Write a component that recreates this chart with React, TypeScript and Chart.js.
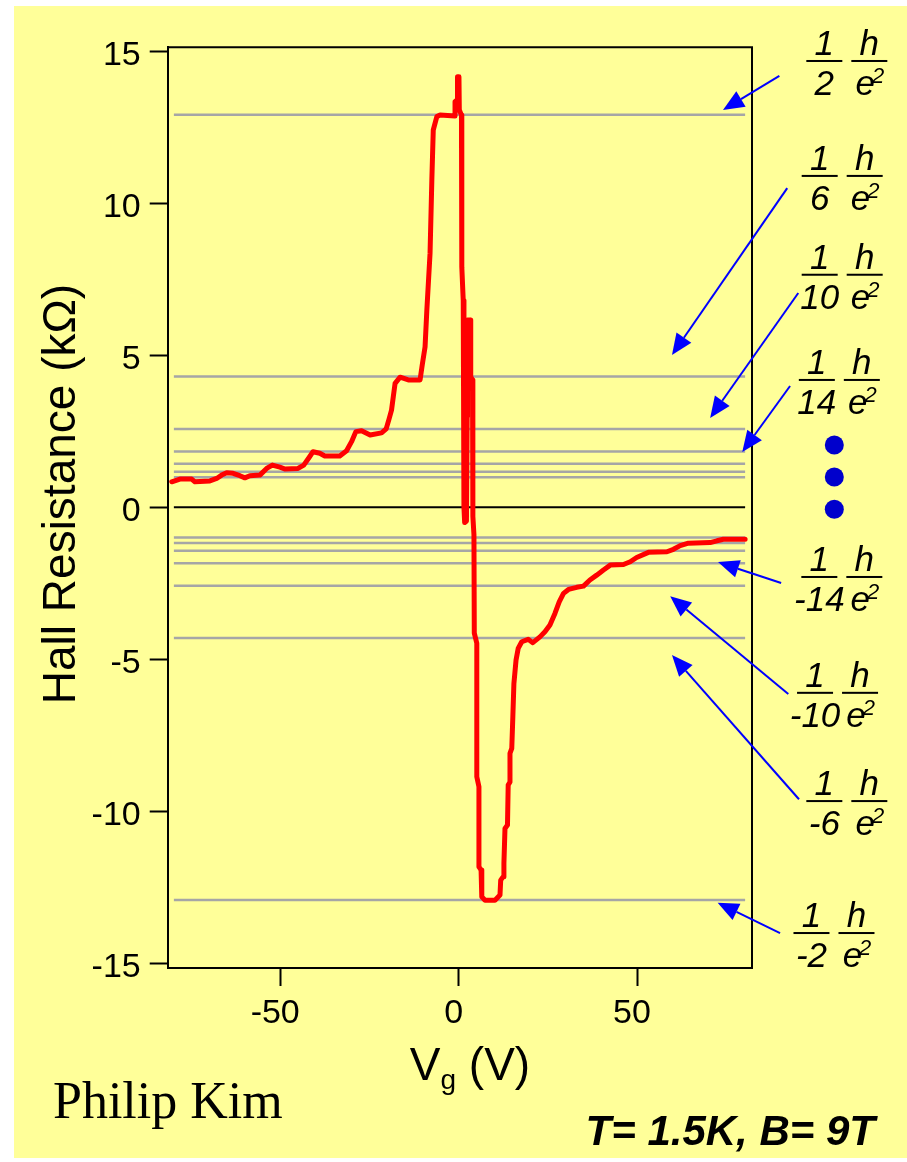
import React, { useEffect, useRef } from "react";
import { Chart, registerables } from "chart.js";

Chart.register(...registerables);

// Gate voltage (V) and Hall resistance (kΩ)
const vgValues = [
  -80.4, -78.1, -74.8, -73.9, -69.7, -67.8, -66.4, -65.0, -63.2, -61.3, -59.9, -58.5, -55.7, -53.8, -52.2,
  -50.1, -48.6, -45.0, -43.4, -41.9, -40.8, -38.9, -37.5, -33.3, -31.4, -30.0, -28.8, -27.2, -24.8, -21.6,
  -20.3, -19.5, -18.8, -18.3, -17.8, -16.4, -14.1, -10.8, -10.2, -9.4, -8.9, -8.0, -7.5, -7.1, -6.1, -5.2,
  -1.0, -1.0, -0.4, -0.3, 0.1, 0.2, 0.8, 0.9, 1.3, 1.5, 1.7, 2.2, 2.4, 2.5, 3.2, 3.4, 3.9, 4.0, 4.3, 4.4,
  5.1, 5.1, 5.7, 5.7, 6.3, 6.5, 7.4, 10.2, 11.6, 11.8, 12.5, 12.7, 13.0, 13.7, 13.9, 14.4, 14.4, 14.9, 15.2,
  15.5, 16.1, 16.7, 17.7, 19.5, 20.8, 22.8, 24.2, 25.6, 27.0, 28.2, 29.4, 30.8, 33.1, 35.0, 36.8, 38.7, 40.6,
  42.5, 46.2, 48.1, 49.9, 53.2, 58.4, 60.2, 62.1, 64.4, 70.5, 72.4, 74.2, 80.3,
];
const hallValues = [
  0.84, 0.93, 0.93, 0.84, 0.87, 0.95, 1.06, 1.14, 1.12, 1.04, 0.97, 1.04, 1.06, 1.28, 1.39,
  1.32, 1.26, 1.28, 1.39, 1.64, 1.83, 1.78, 1.69, 1.69, 1.86, 2.16, 2.49, 2.52, 2.38, 2.45,
  2.58, 2.9, 3.2, 3.64, 4.08, 4.28, 4.19, 4.19, 4.68, 5.28, 6.49, 8.36, 10.77, 12.41, 12.85, 12.9,
  12.87, 13.34, 13.4, 14.16, 14.16, 13.07, 12.9, 7.9, 6.8, 0.0, -0.5, -0.45, 3.0, 6.16, 6.16, 4.3, 4.19, -0.3, -0.9, -4.14,
  -4.47, -8.86, -9.19, -11.82, -11.93, -12.81, -12.92, -12.92, -12.75, -12.26, -12.15, -11.71, -10.56, -10.45, -9.13, -9.03, -8.09, -7.93, -6.89,
  -5.79, -5.02, -4.64, -4.42, -4.34, -4.45, -4.26, -4.09, -3.87, -3.49, -3.11, -2.83, -2.70, -2.63, -2.59, -2.39, -2.23, -2.06,
  -1.90, -1.88, -1.79, -1.65, -1.48, -1.46, -1.38, -1.26, -1.18, -1.16, -1.10, -1.05, -1.05,
];

// Quantized plateau levels (kΩ), grey reference lines
const plateauLevels = [12.91, 4.30, 2.58, 1.84, 1.43, 1.17, 0.99, -0.99, -1.17, -1.43, -1.84, -2.58, -4.30, -12.91];
const refLineX = [-79.8, 80.3];

const xTicks = [-50, 0, 50];
const yTicks = [-15, -10, -5, 0, 5, 10, 15];
const xRange = [-81.53, 82.23];
const yRange = [-15.15, 15.13];

// Annotation fractions 1/ν · h/e²
const labelDenoms = ["2", "6", "10", "14", "-14", "-10", "-6", "-2"];
const labelCx = [102.5, 101.2, 101.2, 100.4, 101.1, 99.9, 102.5, 98.9];
const labelBarY = [14.68, 10.9, 7.65, 4.19, -2.29, -6.1, -9.66, -14.0];
const arrowTipX = [74.1, 59.8, 70.5, 79.5, 72.7, 59.3, 59.8, 72.6];
const arrowTipY = [13.07, 5.01, 2.94, 1.82, -1.8, -2.92, -4.86, -13.0];
const arrowTailX = [89.9, 92.1, 95.2, 92.9, 90.4, 92.4, 95.4, 90.1];
const arrowTailY = [14.19, 10.5, 7.05, 3.99, -2.49, -6.14, -9.6, -14.0];
const dotX = [105.3, 105.3, 105.3];
const dotY = [2.05, 1.0, -0.06];

const SANS = "'Liberation Sans', Arial, sans-serif";
const SERIF = "'Liberation Serif', 'Times New Roman', serif";

const decor = {
  id: "decor",
  beforeDraw(chart: any) {
    const ctx = chart.ctx;
    ctx.save();
    ctx.fillStyle = "#ffffff";
    ctx.fillRect(0, 0, chart.width, chart.height);
    ctx.fillStyle = "#ffff99";
    ctx.fillRect(14, 6, chart.width - 14, chart.height - 10);
    ctx.restore();
  },
  afterDraw(chart: any) {
    const ctx = chart.ctx;
    const a = chart.chartArea;
    const xs = chart.scales.x;
    const ys = chart.scales.y;
    ctx.save();
    // frame top & right
    ctx.strokeStyle = "#000";
    ctx.lineWidth = 2;
    ctx.beginPath();
    ctx.moveTo(a.left, a.top);
    ctx.lineTo(a.right, a.top);
    ctx.lineTo(a.right, a.bottom);
    ctx.stroke();

    // arrows
    ctx.strokeStyle = "#0000ff";
    ctx.fillStyle = "#0000ff";
    ctx.lineWidth = 2;
    for (let i = 0; i < arrowTipX.length; i++) {
      const tx = xs.getPixelForValue(arrowTipX[i]);
      const ty = ys.getPixelForValue(arrowTipY[i]);
      const sx = xs.getPixelForValue(arrowTailX[i]);
      const sy = ys.getPixelForValue(arrowTailY[i]);
      const ang = Math.atan2(ty - sy, tx - sx);
      const hl = 21, hw = 9;
      const bx = tx - hl * Math.cos(ang);
      const by = ty - hl * Math.sin(ang);
      ctx.beginPath();
      ctx.moveTo(sx, sy);
      ctx.lineTo(bx, by);
      ctx.stroke();
      ctx.beginPath();
      ctx.moveTo(tx, ty);
      ctx.lineTo(bx + hw * Math.sin(ang), by - hw * Math.cos(ang));
      ctx.lineTo(bx - hw * Math.sin(ang), by + hw * Math.cos(ang));
      ctx.closePath();
      ctx.fill();
    }

    // fractions
    ctx.fillStyle = "#000";
    ctx.textBaseline = "alphabetic";
    for (let i = 0; i < labelDenoms.length; i++) {
      const cx1 = xs.getPixelForValue(labelCx[i]);
      const cx2 = cx1 + 45;
      const by = ys.getPixelForValue(labelBarY[i]);
      ctx.fillRect(cx1 - 18, by - 1, 36, 2);
      ctx.fillRect(cx2 - 18, by - 1, 36, 2);
      ctx.font = `italic 35px ${SANS}`;
      ctx.textAlign = "center";
      ctx.fillText("1", cx1, by - 6);
      ctx.fillText(labelDenoms[i], cx1, by + 34);
      ctx.fillText("h", cx2, by - 6);
      const we = ctx.measureText("e").width;
      ctx.font = `italic 22px ${SANS}`;
      const w2 = ctx.measureText("2").width;
      const start = cx2 - (we + w2) / 2 + 2;
      ctx.textAlign = "left";
      ctx.font = `italic 35px ${SANS}`;
      ctx.fillText("e", start, by + 34);
      ctx.font = `italic 22px ${SANS}`;
      ctx.fillText("2", start + we - 3, by + 22);
    }

    // dots
    ctx.fillStyle = "#0000cc";
    for (let i = 0; i < dotX.length; i++) {
      ctx.beginPath();
      ctx.arc(xs.getPixelForValue(dotX[i]), ys.getPixelForValue(dotY[i]), 9.5, 0, Math.PI * 2);
      ctx.fill();
    }

    // y title
    ctx.fillStyle = "#000";
    ctx.save();
    ctx.translate(75, 494);
    ctx.rotate(-Math.PI / 2);
    ctx.font = `46px ${SANS}`;
    ctx.textAlign = "center";
    ctx.textBaseline = "alphabetic";
    ctx.fillText("Hall Resistance (kΩ)", 0, 0);
    ctx.restore();

    // x title  V_g (V)
    ctx.textAlign = "left";
    ctx.textBaseline = "alphabetic";
    ctx.font = `46px ${SANS}`;
    const wV = ctx.measureText("V").width;
    const wRest = ctx.measureText(" (V)").width;
    ctx.font = `28px ${SANS}`;
    const wg = ctx.measureText("g").width;
    const x0 = 470 - (wV + wg + wRest) / 2;
    ctx.font = `46px ${SANS}`;
    ctx.fillText("V", x0, 1080);
    ctx.font = `28px ${SANS}`;
    ctx.fillText("g", x0 + wV, 1089);
    ctx.font = `46px ${SANS}`;
    ctx.fillText(" (V)", x0 + wV + wg, 1080);

    // author
    ctx.font = `52px ${SERIF}`;
    ctx.fillText("Philip Kim", 53, 1118);

    // conditions
    ctx.font = `italic bold 42px ${SANS}`;
    ctx.textAlign = "right";
    ctx.fillText("T= 1.5K, B= 9T", 875, 1145);
    ctx.restore();
  },
};

export default function App() {
  const ref = useRef<HTMLCanvasElement>(null);
  useEffect(() => {
    if (!ref.current) return;
    const curve = vgValues.map((x, i) => ({ x, y: hallValues[i] }));
    const refSets = plateauLevels.map((v) => ({
      data: refLineX.map((x) => ({ x, y: v })),
      showLine: true,
      borderColor: "#a6a6a6",
      borderWidth: 2.5,
      pointRadius: 0,
    }));
    const chart = new Chart(ref.current, {
      type: "scatter",
      data: {
        datasets: [
          {
            data: curve,
            showLine: true,
            borderColor: "#ff0000",
            borderWidth: 5,
            pointRadius: 0,
            tension: 0,
            borderJoinStyle: "round",
            borderCapStyle: "round",
          } as any,
          {
            data: refLineX.map((x) => ({ x, y: 0 })),
            showLine: true,
            borderColor: "#000000",
            borderWidth: 2,
            pointRadius: 0,
          },
          ...refSets,
        ],
      },
      options: {
        animation: false,
        responsive: false,
        devicePixelRatio: 1,
        layout: { padding: { left: 0, right: 155, top: 47.3, bottom: 134 } },
        plugins: { legend: { display: false }, tooltip: { enabled: false } },
        scales: {
          x: {
            type: "linear",
            min: xRange[0],
            max: xRange[1],
            afterBuildTicks: (s: any) => {
              s.ticks = xTicks.map((v) => ({ value: v }));
            },
            afterFit: (s: any) => {
              s.height = 60;
            },
            grid: { display: true, drawOnChartArea: false, drawTicks: true, tickLength: 18, tickColor: "#000", tickWidth: 2 },
            border: { display: true, color: "#000", width: 2 },
            ticks: { color: "#000", font: { family: SANS, size: 34 }, padding: 7, labelOffset: -5, maxRotation: 0, autoSkip: false },
          },
          y: {
            type: "linear",
            min: yRange[0],
            max: yRange[1],
            afterBuildTicks: (s: any) => {
              s.ticks = yTicks.map((v) => ({ value: v }));
            },
            afterFit: (s: any) => {
              s.width = 167.7;
            },
            grid: { display: true, drawOnChartArea: false, drawTicks: true, tickLength: 18, tickColor: "#000", tickWidth: 2 },
            border: { display: true, color: "#000", width: 2 },
            ticks: { color: "#000", font: { family: SANS, size: 34 }, padding: 9, labelOffset: 4, autoSkip: false },
          },
        },
      },
      plugins: [decor],
    });
    return () => chart.destroy();
  }, []);
  return (
    <div style={{ position: "absolute", left: 0, top: 0, width: 907, height: 1162 }}>
      <canvas ref={ref} width={907} height={1162} style={{ display: "block", width: 907, height: 1162 }} />
    </div>
  );
}
